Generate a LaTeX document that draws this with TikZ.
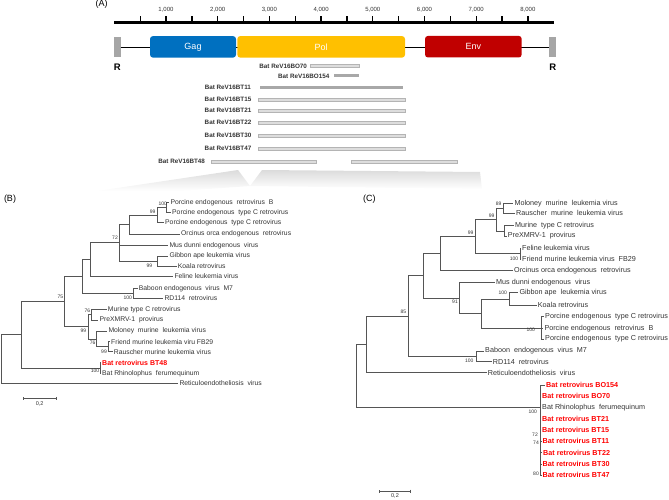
\documentclass[tikz,border=0pt]{standalone}
\usepackage{fontspec}
\setmainfont{Liberation Sans}
\usetikzlibrary{positioning,calc,arrows.meta}
\definecolor{gagblue}{HTML}{0070C0}
\definecolor{polgold}{HTML}{FFC000}
\definecolor{envred}{HTML}{C00000}
\definecolor{ltrgrey}{HTML}{A6A6A6}
\definecolor{barfill}{HTML}{DDDDDD}
\definecolor{barline}{HTML}{B4B4B4}
\definecolor{bardark}{HTML}{A8A8A8}
\definecolor{batred}{HTML}{FF0000}
\definecolor{treeline}{HTML}{555555}
\definecolor{labtext}{HTML}{333333}

\begin{document}
\begin{tikzpicture}[x=1pt,y=-1pt,
  every node/.style={inner sep=0pt,outer sep=0pt},
  panel/.style={font=\fontsize{9}{10}\selectfont},
  gene/.style={rounded corners=3pt,text=white,font=\fontsize{9}{10}\selectfont,
               minimum height=21.6pt},
  ltr/.style={fill=ltrgrey,minimum width=6.6pt,minimum height=20.6pt},
  rlab/.style={font=\fontsize{9.5}{10}\selectfont\bfseries},
  ruler/.style={line width=2.7pt},
  tick/.style={line width=1.3pt},
  numlab/.style={font=\fontsize{6}{7}\selectfont,text=labtext},
  rbar/.style={draw=barline,fill=barfill,line width=0.4pt,minimum height=3pt},
  rbardark/.style={fill=bardark,minimum height=3pt},
  clone/.style={font=\fontsize{6.3}{7}\selectfont\bfseries,text=labtext},
  br/.style={draw=treeline,line width=0.65pt},
  leafB/.style={anchor=west,inner xsep=1.2pt,font=\fontsize{6.8}{7}\selectfont,text=labtext},
  leafC/.style={anchor=west,inner xsep=1.2pt,font=\fontsize{7.2}{8}\selectfont,text=labtext},
  bat/.style={text=batred,font=\fontsize{7}{8}\selectfont\bfseries},
  boot/.style={font=\fontsize{5}{6}\selectfont,text=labtext},
]
\useasboundingbox (0,0) rectangle (669,500);

% zoom fan under the clones
\shade[top color=black!14,bottom color=white] (97,191) -- (238,170) -- (250,186) -- (180,191) -- cycle;
\shade[top color=black!14,bottom color=white] (262,170) -- (480,172) -- (482,189) -- (250,186) -- cycle;

% (A) genome map
\node[panel] (pA) at (101.7,4.5) {(A)};
\coordinate (r0) at (114.3,22.7);
\coordinate (r1) at (554,22.7);
\draw[ruler] (r0) -- (r1);
\foreach \k in {1,...,16}
  \draw[tick] ($(r0)+(25.85*\k,0)$) -- ++(0,-7);
\foreach \k/\t in {2/{1,000},4/{2,000},6/{3,000},8/{4,000},10/{5,000},12/{6,000},14/{7,000},16/{8,000}}
  \node[numlab] at ($(r0)+(25.85*\k,-12.5)$) {\t};

\node[ltr] (ltrL) at (117.4,47) {};
\node[ltr] (ltrR) at (552.7,47) {};
\draw[line width=0.8pt] (ltrL.east) -- (ltrR.west);
\node[gene,fill=gagblue,minimum width=86pt] (gag) at (193,46.85) {Gag};
\node[gene,fill=polgold,minimum width=167.7pt] (pol) at (321.15,46.85) {Pol};
\node[gene,fill=envred,minimum width=96.7pt] (env) at (473.35,46.7) {Env};
\node[rlab,below=7pt of ltrL] (rL) {R};
\node[rlab,below=7pt of ltrR] (rR) {R};

\node[rbar,minimum width=49pt] (bo70) at (334.5,66) {};
\node[clone,left=3pt of bo70] {Bat ReV16BO70};
\node[rbardark,minimum width=24.7pt] (bo154) at (346.65,76) {};
\node[clone,left=5pt of bo154] {Bat ReV16BO154};
\node[rbardark,minimum width=142.7pt] (bt11) at (331.35,87.8) {};
\node[clone,left=9pt of bt11] {Bat ReV16BT11};
\node[rbar,minimum width=146.7pt] (bt15) at (331.65,99.5) {};
\node[clone,left=7pt of bt15] {Bat ReV16BT15};
\node[rbar,minimum width=146.7pt] (bt21) at (331.65,110.8) {};
\node[clone,left=7pt of bt21] {Bat ReV16BT21};
\node[rbar,minimum width=146.7pt] (bt22) at (331.65,122.8) {};
\node[clone,left=7pt of bt22] {Bat ReV16BT22};
\node[rbar,minimum width=146.7pt] (bt30) at (331.65,135.8) {};
\node[clone,left=7pt of bt30] {Bat ReV16BT30};
\node[rbar,minimum width=146.7pt] (bt47) at (331.65,148.5) {};
\node[clone,left=7pt of bt47] {Bat ReV16BT47};
\node[rbar,minimum width=105pt] (bt48a) at (263.5,161.5) {};
\node[rbar,minimum width=106pt] (bt48b) at (404,161.5) {};
\node[clone,left=6pt of bt48a] {Bat ReV16BT48};

% (B) tree
\node[panel] (pB) at (10,199) {(B)};
\node[leafB] (b1) at (169.3,202.7) {Porcine endogenous\ \ retrovirus\ \ B};
\node[leafB] (b2) at (171,212.7) {Porcine endogenous\ \ type C retrovirus};
\node[leafB] (b3) at (164,222.7) {Porcine endogenous\ \ type C retrovirus};
\node[leafB] (b4) at (180,234) {Orcinus orca endogenous\ \ retrovirus};
\node[leafB] (b5) at (168.3,245.7) {Mus dunni endogenous\ \ virus};
\node[leafB] (b6) at (168.3,256) {Gibbon ape leukemia virus};
\node[leafB] (b7) at (176.7,266) {Koala retrovirus};
\node[leafB] (b8) at (173.3,276) {Feline leukemia virus};
\node[leafB] (b9) at (137.7,288.3) {Baboon endogenous\ \ virus\ \ M7};
\node[leafB] (b10) at (163.3,298.3) {RD114\ \ retrovirus};
\node[leafB] (b11) at (106.7,309.3) {Murine type C retrovirus};
\node[leafB] (b12) at (98.3,320) {PreXMRV-1\ \ provirus};
\node[leafB] (b13) at (107.3,331) {Moloney\ \ murine\ \ leukemia virus};
\node[leafB] (b14) at (110,341.7) {Friend murine leukemia viru FB29};
\node[leafB] (b15) at (112.7,351.7) {Rauscher murine leukemia virus};
\node[leafB,bat] (b16) at (101,362.7) {Bat retrovirus BT48};
\node[leafB] (b17) at (101,373.3) {Bat Rhinolophus\ \ ferumequinum};
\node[leafB] (b18) at (178.3,383.3) {Reticuloendotheliosis\ \ virus};

\coordinate (nB100a) at (166.7,207.7);
\coordinate (nB99a) at (157.3,215.2);
\coordinate (nBpo) at (129,224.6);
\coordinate (nBgk) at (157.3,261);
\coordinate (nB72) at (119,242.8);
\coordinate (nBfe) at (90.7,259.4);
\coordinate (nBba) at (133.3,293.3);
\coordinate (nBx) at (82.3,276.4);
\coordinate (nB76a) at (91.7,314.7);
\coordinate (nB99c) at (108.3,346.7);
\coordinate (nB76b) at (96.7,338.9);
\coordinate (nB99b) at (88.3,326.8);
\coordinate (nB75) at (64.3,301.6);
\coordinate (nBbat) at (100,368);
\coordinate (nBy) at (21,334.8);
\coordinate (nBroot) at (1,359);

\foreach \p/\c in {nB100a/b1.west,nB100a/b2.west,nB99a/nB100a,nB99a/b3.west,
    nBpo/nB99a,nBpo/b4.west,nB72/nBpo,nB72/b5.west,nB72/nBgk,nBgk/b6.west,
    nBgk/b7.west,nBfe/nB72,nBfe/b8.west,nBba/b9.west,nBba/b10.west,nBx/nBfe,
    nBx/nBba,nB76a/b11.west,nB76a/b12.west,nB99c/b14.west,nB99c/b15.west,
    nB76b/b13.west,nB76b/nB99c,nB99b/nB76a,nB99b/nB76b,nB75/nBx,nB75/nB99b,
    nBbat/b16.west,nBbat/b17.west,nBy/nB75,nBy/nBbat,nBroot/nBy,nBroot/b18.west}
  \draw[br] (\p) |- (\c);

\node[boot] at (162.7,203.3) {100};
\node[boot] at (152.7,211.7) {99};
\node[boot] at (115,238) {72};
\node[boot] at (149.3,265.3) {99};
\node[boot] at (127.7,297.3) {100};
\node[boot] at (60.3,297.3) {75};
\node[boot] at (87.3,310.7) {76};
\node[boot] at (83.3,330.7) {99};
\node[boot] at (92.7,342.7) {76};
\node[boot] at (104,351.7) {99};
\node[boot] at (95,371) {100};

\coordinate (sbB0) at (22.7,398.3);
\coordinate (sbB1) at (56.7,398.3);
\draw[br,{Bar[width=3pt]}-{Bar[width=3pt]}] (sbB0) -- (sbB1);
\node[boot,font=\fontsize{5.5}{6}\selectfont,below=3pt of $(sbB0)!0.5!(sbB1)$] {0,2};

% (C) tree
\node[panel] (pC) at (369.3,199) {(C)};
\node[leafC] (c1) at (513.3,203.3) {Moloney\ \ murine\ \ leukemia virus};
\node[leafC] (c2) at (515,213.3) {Rauscher\ \ murine\ \ leukemia virus};
\node[leafC] (c3) at (514,225.7) {Murine\ \ type C retrovirus};
\node[leafC] (c4) at (506.7,236) {PreXMRV-1\ \ provirus};
\node[leafC] (c5) at (521,248.3) {Feline leukemia virus};
\node[leafC] (c6) at (521,259.3) {Friend murine leukemia virus\ \ FB29};
\node[leafC] (c7) at (513,270.7) {Orcinus orca endogenous\ \ retrovirus};
\node[leafC] (c8) at (495,282.3) {Mus dunni endogenous\ \ virus};
\node[leafC] (c9) at (518.3,292.7) {Gibbon ape\ \ leukemia virus};
\node[leafC] (c10) at (536.7,305.3) {Koala retrovirus};
\node[leafC] (c11) at (544,316.7) {Porcine endogenous\ \ type C retrovirus};
\node[leafC] (c12) at (543.3,328.3) {Porcine endogenous\ \ retrovirus\ \ B};
\node[leafC] (c13) at (544,339) {Porcine endogenous\ \ type C retrovirus};
\node[leafC] (c14) at (484,351) {Baboon\ \ endogenous\ \ virus\ \ M7};
\node[leafC] (c15) at (491.7,361.7) {RD114\ \ retrovirus};
\node[leafC] (c16) at (486.7,372.7) {Reticuloendotheliosis\ \ virus};
\node[leafC,bat,font=\fontsize{7.2}{8}\selectfont\bfseries] (c17) at (545,385) {Bat retrovirus BO154};
\node[leafC,bat,font=\fontsize{7.2}{8}\selectfont\bfseries] (c18) at (541,396.3) {Bat retrovirus BO70};
\node[leafC] (c19) at (541,407.7) {Bat Rhinolophus\ \ ferumequinum};
\node[leafC,bat,font=\fontsize{7.2}{8}\selectfont\bfseries] (c20) at (541,418.7) {Bat retrovirus BT21};
\node[leafC,bat,font=\fontsize{7.2}{8}\selectfont\bfseries] (c21) at (541,430) {Bat retrovirus BT15};
\node[leafC,bat,font=\fontsize{7.2}{8}\selectfont\bfseries] (c22) at (541.5,441) {Bat retrovirus BT11};
\node[leafC,bat,font=\fontsize{7.2}{8}\selectfont\bfseries] (c23) at (542,452.7) {Bat retrovirus BT22};
\node[leafC,bat,font=\fontsize{7.2}{8}\selectfont\bfseries] (c24) at (541.5,464) {Bat retrovirus BT30};
\node[leafC,bat,font=\fontsize{7.2}{8}\selectfont\bfseries] (c25) at (541.5,475) {Bat retrovirus BT47};

\coordinate (nC89) at (503.3,208.3);
\coordinate (nCmp) at (504,230.85);
\coordinate (nC99a) at (496.7,219.6);
\coordinate (nC100a) at (520,253.8);
\coordinate (nC99b) at (475.7,236.7);
\coordinate (nCy) at (440,253.7);
\coordinate (nCgk) at (509.3,299);
\coordinate (nCpo) at (541.7,327.85);
\coordinate (nCz) at (481.7,313.4);
\coordinate (nC91) at (459.3,297.9);
\coordinate (nCw) at (423.3,275.8);
\coordinate (nCba) at (476,356.35);
\coordinate (nC85) at (408.3,316.1);
\coordinate (nCv) at (366,344.4);
\coordinate (nCbat) at (540,407.5);
\coordinate (nCroot) at (356,376);

\foreach \p/\c in {nC89/c1.west,nC89/c2.west,nCmp/c3.west,nCmp/c4.west,
    nC99a/nC89,nC99a/nCmp,nC100a/c5.west,nC100a/c6.west,nC99b/nC99a,
    nC99b/nC100a,nCy/nC99b,nCy/c7.west,nCgk/c9.west,nCgk/c10.west,
    nCpo/c11.west,nCpo/c12.west,nCpo/c13.west,nCz/nCgk,nCz/nCpo,
    nC91/c8.west,nC91/nCz,nCw/nCy,nCw/nC91,nCba/c14.west,nCba/c15.west,
    nC85/nCw,nC85/nCba,nCv/nC85,nCv/c16.west,nCroot/nCv,nCroot/nCbat}
  \draw[br] (\p) |- (\c);
\foreach \c in {c17,c18,c19,c20,c21,c22,c23,c24,c25}
  \draw[br] (nCbat) |- (\c.west);

\node[boot] at (498.7,204) {89};
\node[boot] at (491.7,216) {99};
\node[boot] at (470.7,232.7) {99};
\node[boot] at (514,258.3) {100};
\node[boot] at (455,301.7) {91};
\node[boot] at (502.7,292.7) {100};
\node[boot] at (530.7,329.3) {100};
\node[boot] at (403.3,311.7) {85};
\node[boot] at (469.3,360.7) {100};
\node[boot] at (532.7,411.7) {100};
\node[boot] at (535,435) {72};
\node[boot] at (536,442.7) {74};
\node[boot] at (536,473.3) {80};

\coordinate (sbC0) at (379.3,491);
\coordinate (sbC1) at (410.7,491);
\draw[br,{Bar[width=3pt]}-{Bar[width=3pt]}] (sbC0) -- (sbC1);
\node[boot,font=\fontsize{5.5}{6}\selectfont,below=3pt of $(sbC0)!0.5!(sbC1)$] {0,2};
\end{tikzpicture}
\end{document}
